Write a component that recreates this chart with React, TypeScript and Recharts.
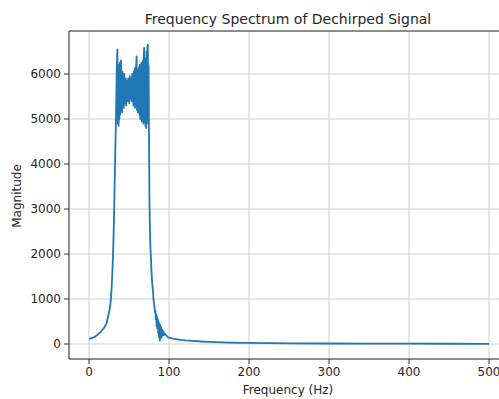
import { LineChart, Line, XAxis, YAxis, CartesianGrid, ReferenceLine } from 'recharts';

// rising edge of the spectrum (Hz / magnitude)
const riseFreq = [0, 2, 4, 6, 8, 10, 12, 14, 16, 18, 20, 21, 22, 23, 24, 25, 26, 27, 28, 29, 30, 31, 32, 33, 34, 34.5];
const riseMag = [120, 125, 135, 150, 170, 195, 230, 260, 300, 340, 390, 430, 470, 550, 610, 700, 800, 930, 1150, 1500, 1950, 2600, 3500, 4400, 5300, 5900];

// noisy pass band, 35 Hz to 75 Hz sampled every 0.5 Hz
const bandStart = 35;
const bandStep = 0.5;
const bandMag = [
  6300, 6540, 4900, 6200, 4850, 6000, 5000, 6250, 5100, 6000,
  6300, 5200, 5950, 5150, 6050, 5300, 5850, 5250, 6000, 5350,
  5800, 5400, 5900, 5300, 5750, 5450, 5850, 5400, 5900, 5500,
  5800, 5350, 5950, 5450, 5750, 5550, 5900, 5400, 6000, 5450,
  5850, 5300, 6050, 5350, 6100, 5250, 6150, 5300, 6200, 6390,
  5200, 6100, 5150, 6000, 5250, 6150, 5100, 6200, 5000, 5950,
  5150, 6250, 4950, 6100, 5050, 6300, 4900, 6450, 6580, 4950,
  6350, 4850, 6200, 4800, 6500, 4900, 6600, 6650, 5000, 6200,
  4700,
];

// falling edge with the ripple around 85-95 Hz
const fallFreq = [75.5, 76, 76.5, 77, 77.5, 78, 78.5, 79, 79.5, 80, 80.5, 81, 81.5, 82, 82.5, 83, 83.5, 84, 84.5, 85, 85.5, 86, 86.5, 87, 87.5, 88, 88.5, 89, 89.5, 90, 90.5, 91, 91.5, 92, 92.5, 93, 93.5, 94, 95, 96, 97, 98, 99, 100];
const fallMag = [3300, 2700, 2300, 2050, 1900, 1650, 1500, 1350, 1250, 1200, 1000, 950, 850, 800, 700, 750, 550, 650, 400, 600, 350, 550, 250, 500, 150, 450, 80, 420, 120, 380, 150, 330, 180, 300, 200, 280, 190, 240, 220, 200, 180, 165, 150, 140];

// long tail
const tailFreq = [105, 110, 115, 120, 130, 140, 150, 160, 175, 200, 250, 300, 350, 400, 450, 500];
const tailMag = [120, 105, 92, 82, 68, 56, 47, 40, 32, 25, 16, 12, 9, 7, 6, 5];

const xTicks = [0, 100, 200, 300, 400, 500];
const yTicks = [0, 1000, 2000, 3000, 4000, 5000, 6000];

const X_MIN = -25;
const X_MAX = 525;
const Y_MIN = -333;
const Y_MAX = 6956;

const spectrum = [
  ...riseFreq.map((f, i) => ({ freq: f, mag: riseMag[i] })),
  ...bandMag.map((m, i) => ({ freq: bandStart + i * bandStep, mag: m })),
  ...fallFreq.map((f, i) => ({ freq: f, mag: fallMag[i] })),
  ...tailFreq.map((f, i) => ({ freq: f, mag: tailMag[i] })),
];

const font = 'DejaVu Sans, sans-serif';
const ink = '#262626';
const tickStyle = { fontSize: 12, fill: ink, fontFamily: font };

export default function App() {
  return (
    <div
      style={{
        position: 'absolute',
        left: 0,
        top: 0,
        width: 499,
        height: 399,
        overflow: 'hidden',
        background: '#fff',
        fontFamily: font,
        color: ink,
      }}
    >
      <div
        style={{
          position: 'absolute',
          left: 0,
          width: 576,
          top: 11,
          lineHeight: '16px',
          fontSize: 14,
          textAlign: 'center',
        }}
      >
        Frequency Spectrum of Dechirped Signal
      </div>

      <LineChart
        width={530}
        height={399}
        data={spectrum}
        margin={{ top: 31, right: 21, bottom: 0, left: 0 }}
      >
        <CartesianGrid stroke="#cfcfcf" strokeWidth={1} />
        <XAxis
          dataKey="freq"
          type="number"
          domain={[X_MIN, X_MAX]}
          ticks={xTicks}
          allowDataOverflow
          height={40}
          tick={tickStyle}
          tickSize={5}
          tickMargin={3}
          stroke="#333"
        />
        <YAxis
          type="number"
          domain={[Y_MIN, Y_MAX]}
          ticks={yTicks}
          allowDataOverflow
          width={69}
          tick={tickStyle}
          tickSize={5}
          tickMargin={3}
          stroke="#333"
        />
        <ReferenceLine y={Y_MAX} stroke="#333" />
        <ReferenceLine x={X_MAX} stroke="#333" />
        <Line
          type="linear"
          dataKey="mag"
          stroke="#1f77b4"
          strokeWidth={1.8}
          strokeLinejoin="round"
          dot={false}
          isAnimationActive={false}
        />
      </LineChart>

      <div
        style={{
          position: 'absolute',
          left: 0,
          width: 576,
          top: 383,
          lineHeight: '14px',
          fontSize: 12,
          textAlign: 'center',
        }}
      >
        Frequency (Hz)
      </div>
      <div
        style={{
          position: 'absolute',
          left: 17,
          top: 196,
          fontSize: 12,
          lineHeight: '14px',
          whiteSpace: 'nowrap',
          transform: 'translate(-50%, -50%) rotate(-90deg)',
        }}
      >
        Magnitude
      </div>
    </div>
  );
}
